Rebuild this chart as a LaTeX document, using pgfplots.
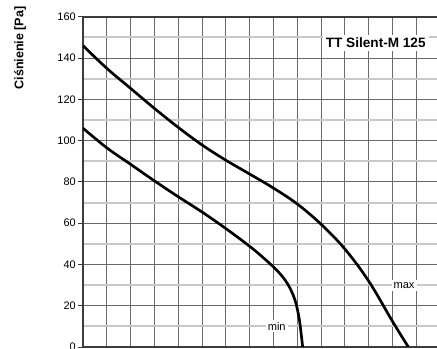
\documentclass[border=0pt]{standalone}
\usepackage{pgfplots}
\pgfplotsset{compat=1.18}
\usepackage{fontspec}
\setmainfont{Liberation Sans}
\definecolor{gridDark}{RGB}{105,105,105}
\definecolor{gridLight}{RGB}{200,200,200}
\definecolor{axDark}{RGB}{60,60,60}
\begin{document}
\begin{tikzpicture}
\clip (-62.25pt,-1.5pt) rectangle (265.5pt,260.25pt);
\begin{axis}[
  at={(0,0)}, anchor=south west,
  scale only axis,
  width=267.75pt, height=247.7pt,
  xmin=0, xmax=15, ymin=0, ymax=160,
  separate axis lines,
  axis x line*=box,
  axis y line*=left,
  x axis line style={draw=axDark, line width=1.4pt},
  y axis line style={draw=axDark, line width=1.4pt},
  xtick={0,1,...,15},
  xticklabels={},
  xtick style={draw=none},
  ytick={0,20,...,160},
  minor ytick={10,30,...,150},
  minor tick length=0pt,
  major tick length=3.75pt,
  tick align=outside,
  ytick pos=left,
  ytick style={draw=axDark, line width=0.7pt},
  grid=both,
  major grid style={draw=gridDark, line width=0.7pt},
  minor grid style={draw=gridLight, line width=1.5pt},
  /pgf/number format/assume math mode=true,
  yticklabel style={font=\fontsize{8.2}{9.6}\selectfont, text=black, inner sep=1.5pt},
]
\addplot[black, line width=2pt, smooth, tension=0.6] coordinates {
  (0,146) (1,135) (2,125.3) (3,115.6) (4,106.4) (5,97.9) (6,90.5) (7,83.8)
  (8,77) (9,69.3) (10,59.5) (11,47.5) (12,32) (13,12.5) (13.67,0)
};
\addplot[black, line width=2pt, smooth, tension=0.6] coordinates {
  (0,106) (1,96.5) (2,88.5) (3,80.5) (4,72.8) (5,65.4) (6,57.4) (7,48.8)
  (7.6,43) (8.2,36.5) (8.6,30.5) (8.9,23) (9.08,14) (9.17,6) (9.23,0)
};
\node[fill=white, inner sep=2.5pt, font=\fontsize{10.2}{12}\selectfont\bfseries]
  at (axis cs:12.3,147.3) {TT Silent-M 125};
\node[fill=white, inner sep=1.5pt, font=\fontsize{8.3}{9.6}\selectfont]
  at (axis cs:13.49,29.8) {max};
\node[fill=white, inner sep=1.5pt, font=\fontsize{8.3}{9.6}\selectfont]
  at (axis cs:8.14,10) {min};
\end{axis}
\node[rotate=90, font=\fontsize{9.4}{11}\selectfont\bfseries] at (-47.25pt,224.25pt) {Ciśnienie [Pa]};
\end{tikzpicture}
\end{document}
